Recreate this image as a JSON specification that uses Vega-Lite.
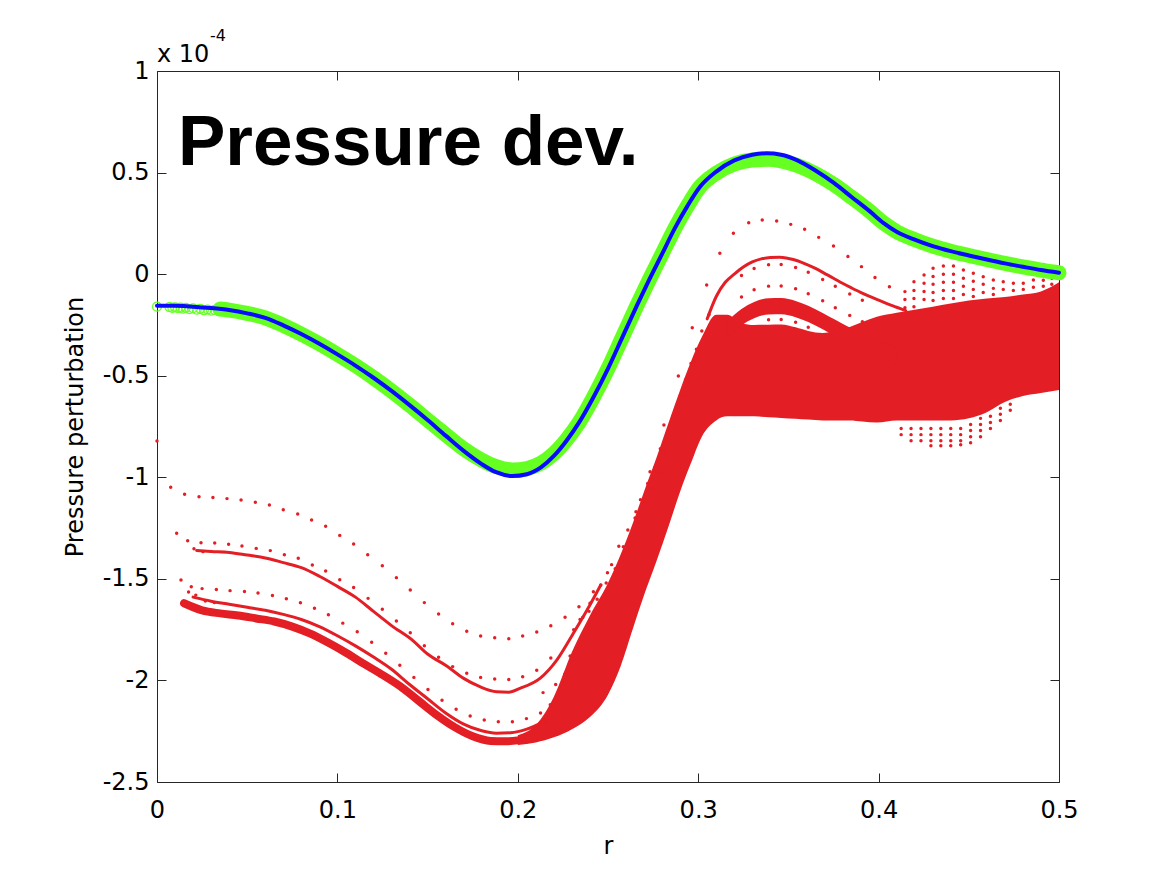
{
  "$schema": "https://vega.github.io/schema/vega-lite/v6.json",
  "width": 902,
  "height": 711,
  "autosize": {"type": "none"},
  "padding": {"left": 157, "top": 71, "right": 98, "bottom": 92},
  "background": "white",
  "config": {
    "view": {"stroke": "#262626", "strokeWidth": 1},
    "font": "DejaVu Sans",
    "axis": {"zindex": 1}
  },
  "datasets": {
    "blue": [
      {"r": 0.0, "p": -0.155}, {"r": 0.01, "p": -0.156}, {"r": 0.02, "p": -0.16}, {"r": 0.03, "p": -0.167},
      {"r": 0.04, "p": -0.177}, {"r": 0.05, "p": -0.193}, {"r": 0.06, "p": -0.215}, {"r": 0.07, "p": -0.252},
      {"r": 0.08, "p": -0.295}, {"r": 0.09, "p": -0.343}, {"r": 0.1, "p": -0.395}, {"r": 0.11, "p": -0.45},
      {"r": 0.12, "p": -0.51}, {"r": 0.13, "p": -0.575}, {"r": 0.14, "p": -0.645}, {"r": 0.15, "p": -0.718},
      {"r": 0.16, "p": -0.795}, {"r": 0.17, "p": -0.87}, {"r": 0.18, "p": -0.935}, {"r": 0.188, "p": -0.975},
      {"r": 0.197, "p": -0.994}, {"r": 0.205, "p": -0.985}, {"r": 0.213, "p": -0.95}, {"r": 0.22, "p": -0.895},
      {"r": 0.227, "p": -0.82}, {"r": 0.234, "p": -0.73}, {"r": 0.242, "p": -0.605}, {"r": 0.25, "p": -0.465},
      {"r": 0.258, "p": -0.31}, {"r": 0.266, "p": -0.155}, {"r": 0.273, "p": -0.025}, {"r": 0.28, "p": 0.1},
      {"r": 0.287, "p": 0.225}, {"r": 0.294, "p": 0.335}, {"r": 0.301, "p": 0.43}, {"r": 0.31, "p": 0.505},
      {"r": 0.32, "p": 0.56}, {"r": 0.33, "p": 0.588}, {"r": 0.338, "p": 0.595}, {"r": 0.346, "p": 0.588},
      {"r": 0.355, "p": 0.56}, {"r": 0.365, "p": 0.51}, {"r": 0.375, "p": 0.45}, {"r": 0.385, "p": 0.38},
      {"r": 0.395, "p": 0.31}, {"r": 0.403, "p": 0.25}, {"r": 0.41, "p": 0.209}, {"r": 0.42, "p": 0.17},
      {"r": 0.43, "p": 0.138}, {"r": 0.44, "p": 0.113}, {"r": 0.45, "p": 0.092}, {"r": 0.46, "p": 0.072},
      {"r": 0.47, "p": 0.053}, {"r": 0.48, "p": 0.036}, {"r": 0.49, "p": 0.02}, {"r": 0.5, "p": 0.007}
    ],
    "green": [
      {"r": 0.035, "p": -0.172}, {"r": 0.04, "p": -0.177}, {"r": 0.05, "p": -0.193}, {"r": 0.06, "p": -0.215},
      {"r": 0.07, "p": -0.252}, {"r": 0.08, "p": -0.295}, {"r": 0.09, "p": -0.343}, {"r": 0.1, "p": -0.395},
      {"r": 0.11, "p": -0.45}, {"r": 0.12, "p": -0.51}, {"r": 0.13, "p": -0.575}, {"r": 0.14, "p": -0.645},
      {"r": 0.15, "p": -0.718}, {"r": 0.16, "p": -0.79}, {"r": 0.17, "p": -0.86}, {"r": 0.18, "p": -0.915},
      {"r": 0.188, "p": -0.947}, {"r": 0.197, "p": -0.964}, {"r": 0.205, "p": -0.957}, {"r": 0.213, "p": -0.93},
      {"r": 0.22, "p": -0.883}, {"r": 0.227, "p": -0.815}, {"r": 0.234, "p": -0.73}, {"r": 0.242, "p": -0.605},
      {"r": 0.25, "p": -0.465}, {"r": 0.258, "p": -0.31}, {"r": 0.266, "p": -0.155}, {"r": 0.273, "p": -0.025},
      {"r": 0.28, "p": 0.1}, {"r": 0.287, "p": 0.225}, {"r": 0.294, "p": 0.335}, {"r": 0.301, "p": 0.43},
      {"r": 0.31, "p": 0.497}, {"r": 0.32, "p": 0.542}, {"r": 0.33, "p": 0.562}, {"r": 0.338, "p": 0.565},
      {"r": 0.346, "p": 0.558}, {"r": 0.355, "p": 0.535}, {"r": 0.365, "p": 0.495}, {"r": 0.375, "p": 0.442},
      {"r": 0.385, "p": 0.378}, {"r": 0.395, "p": 0.31}, {"r": 0.403, "p": 0.25}, {"r": 0.41, "p": 0.209},
      {"r": 0.42, "p": 0.17}, {"r": 0.43, "p": 0.138}, {"r": 0.44, "p": 0.113}, {"r": 0.45, "p": 0.092},
      {"r": 0.46, "p": 0.072}, {"r": 0.47, "p": 0.053}, {"r": 0.48, "p": 0.036}, {"r": 0.49, "p": 0.02},
      {"r": 0.5, "p": 0.007}
    ],
    "greenOpen": [
      {"r": 0.0, "p": -0.16}, {"r": 0.0069, "p": -0.162}, {"r": 0.0085, "p": -0.166}, {"r": 0.01, "p": -0.163},
      {"r": 0.0115, "p": -0.168}, {"r": 0.013, "p": -0.165}, {"r": 0.0145, "p": -0.17}, {"r": 0.016, "p": -0.166},
      {"r": 0.018, "p": -0.172}, {"r": 0.02, "p": -0.168}, {"r": 0.022, "p": -0.175}, {"r": 0.024, "p": -0.171},
      {"r": 0.026, "p": -0.178}, {"r": 0.028, "p": -0.174}, {"r": 0.03, "p": -0.18}, {"r": 0.032, "p": -0.176},
      {"r": 0.034, "p": -0.182}
    ],
    "redDots": [
      {"r": 0.0, "p": -0.821},
      {"r": 0.0076, "p": -1.049}, {"r": 0.0153, "p": -1.084}, {"r": 0.0233, "p": -1.096}, {"r": 0.031, "p": -1.1},
      {"r": 0.0388, "p": -1.105}, {"r": 0.0466, "p": -1.112}, {"r": 0.0545, "p": -1.123}, {"r": 0.0623, "p": -1.136},
      {"r": 0.07, "p": -1.16}, {"r": 0.078, "p": -1.181}, {"r": 0.0857, "p": -1.21}, {"r": 0.0935, "p": -1.241},
      {"r": 0.1013, "p": -1.286}, {"r": 0.109, "p": -1.328}, {"r": 0.1168, "p": -1.381}, {"r": 0.1249, "p": -1.435},
      {"r": 0.1327, "p": -1.494}, {"r": 0.1404, "p": -1.555}, {"r": 0.1482, "p": -1.617}, {"r": 0.1561, "p": -1.673},
      {"r": 0.1639, "p": -1.721}, {"r": 0.1717, "p": -1.758}, {"r": 0.1794, "p": -1.781}, {"r": 0.1872, "p": -1.79},
      {"r": 0.195, "p": -1.795}, {"r": 0.2027, "p": -1.781}, {"r": 0.2105, "p": -1.762}, {"r": 0.2183, "p": -1.731},
      {"r": 0.2262, "p": -1.689}, {"r": 0.2339, "p": -1.637}, {"r": 0.2419, "p": -1.563}, {"r": 0.2497, "p": -1.47},
      {"r": 0.2585, "p": -1.342}, {"r": 0.2655, "p": -1.17}, {"r": 0.2733, "p": -0.973}, {"r": 0.281, "p": -0.743},
      {"r": 0.289, "p": -0.501}, {"r": 0.2967, "p": -0.264}, {"r": 0.3047, "p": -0.053}, {"r": 0.312, "p": 0.103},
      {"r": 0.3195, "p": 0.201}, {"r": 0.328, "p": 0.253}, {"r": 0.3355, "p": 0.267}, {"r": 0.3435, "p": 0.262},
      {"r": 0.3513, "p": 0.245}, {"r": 0.359, "p": 0.221}, {"r": 0.3668, "p": 0.181}, {"r": 0.375, "p": 0.139},
      {"r": 0.383, "p": 0.087}, {"r": 0.3905, "p": 0.037}, {"r": 0.398, "p": -0.016}, {"r": 0.406, "p": -0.062},
      {"r": 0.0109, "p": -1.276}, {"r": 0.017, "p": -1.312}, {"r": 0.0244, "p": -1.322}, {"r": 0.032, "p": -1.324},
      {"r": 0.0397, "p": -1.33}, {"r": 0.0471, "p": -1.338}, {"r": 0.055, "p": -1.35}, {"r": 0.0628, "p": -1.361},
      {"r": 0.0706, "p": -1.381}, {"r": 0.0783, "p": -1.399}, {"r": 0.0861, "p": -1.432}, {"r": 0.0935, "p": -1.461},
      {"r": 0.1013, "p": -1.504}, {"r": 0.109, "p": -1.543}, {"r": 0.117, "p": -1.596}, {"r": 0.1249, "p": -1.65},
      {"r": 0.1327, "p": -1.707}, {"r": 0.1404, "p": -1.765}, {"r": 0.1482, "p": -1.829}, {"r": 0.1561, "p": -1.886},
      {"r": 0.1639, "p": -1.932}, {"r": 0.1717, "p": -1.965}, {"r": 0.1794, "p": -1.985}, {"r": 0.1872, "p": -1.993},
      {"r": 0.195, "p": -1.995}, {"r": 0.2027, "p": -1.982}, {"r": 0.2105, "p": -1.95}, {"r": 0.2183, "p": -1.89},
      {"r": 0.0133, "p": -1.506}, {"r": 0.019, "p": -1.539}, {"r": 0.025, "p": -1.548}, {"r": 0.0329, "p": -1.552},
      {"r": 0.0405, "p": -1.558}, {"r": 0.0485, "p": -1.562}, {"r": 0.056, "p": -1.57}, {"r": 0.064, "p": -1.582},
      {"r": 0.0717, "p": -1.598}, {"r": 0.0795, "p": -1.618}, {"r": 0.0873, "p": -1.645}, {"r": 0.095, "p": -1.677},
      {"r": 0.103, "p": -1.718}, {"r": 0.111, "p": -1.76}, {"r": 0.119, "p": -1.812}, {"r": 0.1268, "p": -1.866},
      {"r": 0.1346, "p": -1.925}, {"r": 0.1424, "p": -1.985}, {"r": 0.1502, "p": -2.045}, {"r": 0.158, "p": -2.098},
      {"r": 0.1658, "p": -2.142}, {"r": 0.1736, "p": -2.175}, {"r": 0.1814, "p": -2.195}, {"r": 0.1892, "p": -2.203},
      {"r": 0.197, "p": -2.203}, {"r": 0.2048, "p": -2.188}, {"r": 0.2126, "p": -2.16},
      {"r": 0.0175, "p": -1.565}, {"r": 0.0215, "p": -1.58}, {"r": 0.0268, "p": -1.609}, {"r": 0.0318, "p": -1.617},
      {"r": 0.0205, "p": -1.352}, {"r": 0.0255, "p": -1.366},
      {"r": 0.214, "p": -2.06}, {"r": 0.218, "p": -2.12}, {"r": 0.221, "p": -2.02}, {"r": 0.224, "p": -2.07},
      {"r": 0.226, "p": -1.97}, {"r": 0.229, "p": -1.88}, {"r": 0.216, "p": -2.2}, {"r": 0.222, "p": -2.17},
      {"r": 0.231, "p": -1.75}, {"r": 0.236, "p": -1.69}, {"r": 0.24, "p": -1.62}, {"r": 0.246, "p": -1.53},
      {"r": 0.252, "p": -1.43}, {"r": 0.256, "p": -1.34}, {"r": 0.261, "p": -1.26}, {"r": 0.265, "p": -1.2},
      {"r": 0.268, "p": -1.11}, {"r": 0.272, "p": -1.03}, {"r": 0.276, "p": -0.95}, {"r": 0.279, "p": -0.86},
      {"r": 0.283, "p": -0.78}, {"r": 0.286, "p": -0.7}, {"r": 0.29, "p": -0.6}, {"r": 0.293, "p": -0.52},
      {"r": 0.296, "p": -0.44}, {"r": 0.299, "p": -0.37}, {"r": 0.302, "p": -0.28}, {"r": 0.306, "p": -0.2},
      {"r": 0.2345, "p": -1.7}, {"r": 0.2395, "p": -1.66}, {"r": 0.244, "p": -1.6}, {"r": 0.249, "p": -1.52},
      {"r": 0.254, "p": -1.45}, {"r": 0.2585, "p": -1.4}, {"r": 0.263, "p": -1.31}, {"r": 0.2675, "p": -1.22},
      {"r": 0.271, "p": -1.13}, {"r": 0.275, "p": -1.06}, {"r": 0.2785, "p": -0.98}, {"r": 0.282, "p": -0.88},
      {"r": 0.2855, "p": -0.79}, {"r": 0.289, "p": -0.69}, {"r": 0.2925, "p": -0.6}, {"r": 0.2955, "p": -0.52},
      {"r": 0.2985, "p": -0.43}, {"r": 0.301, "p": -0.36},
      {"r": 0.324, "p": -0.007}, {"r": 0.331, "p": 0.028}, {"r": 0.339, "p": 0.046}, {"r": 0.346, "p": 0.047},
      {"r": 0.354, "p": 0.033}, {"r": 0.361, "p": 0.009}, {"r": 0.369, "p": -0.026}, {"r": 0.376, "p": -0.06},
      {"r": 0.384, "p": -0.098}, {"r": 0.391, "p": -0.129},
      {"r": 0.324, "p": -0.112}, {"r": 0.331, "p": -0.077}, {"r": 0.339, "p": -0.059}, {"r": 0.346, "p": -0.058},
      {"r": 0.354, "p": -0.072}, {"r": 0.361, "p": -0.096}, {"r": 0.369, "p": -0.131}, {"r": 0.376, "p": -0.165},
      {"r": 0.384, "p": -0.203}, {"r": 0.391, "p": -0.234},
      {"r": 0.339, "p": -0.224}, {"r": 0.346, "p": -0.223}, {"r": 0.354, "p": -0.237}, {"r": 0.361, "p": -0.261},
      {"r": 0.4146, "p": -0.086}, {"r": 0.4146, "p": -0.125}, {"r": 0.4146, "p": -0.165},
      {"r": 0.4196, "p": -0.037}, {"r": 0.4196, "p": -0.08}, {"r": 0.4196, "p": -0.12}, {"r": 0.4196, "p": -0.16},
      {"r": 0.4252, "p": -0.004}, {"r": 0.4252, "p": -0.045}, {"r": 0.4252, "p": -0.085}, {"r": 0.4252, "p": -0.125},
      {"r": 0.4302, "p": 0.029}, {"r": 0.4302, "p": -0.012}, {"r": 0.4302, "p": -0.05}, {"r": 0.4302, "p": -0.09}, {"r": 0.4302, "p": -0.13},
      {"r": 0.4359, "p": 0.04}, {"r": 0.4359, "p": 0.0}, {"r": 0.4359, "p": -0.04}, {"r": 0.4359, "p": -0.08}, {"r": 0.4359, "p": -0.12},
      {"r": 0.4415, "p": 0.04}, {"r": 0.4415, "p": 0.0}, {"r": 0.4415, "p": -0.04}, {"r": 0.4415, "p": -0.08}, {"r": 0.4415, "p": -0.12},
      {"r": 0.447, "p": 0.02}, {"r": 0.447, "p": -0.02}, {"r": 0.447, "p": -0.06}, {"r": 0.447, "p": -0.1},
      {"r": 0.4525, "p": 0.004}, {"r": 0.4525, "p": -0.035}, {"r": 0.4525, "p": -0.075}, {"r": 0.4525, "p": -0.11},
      {"r": 0.458, "p": -0.013}, {"r": 0.458, "p": -0.05}, {"r": 0.458, "p": -0.09},
      {"r": 0.4636, "p": -0.029}, {"r": 0.4636, "p": -0.07}, {"r": 0.4636, "p": -0.1},
      {"r": 0.4691, "p": -0.037}, {"r": 0.4691, "p": -0.075},
      {"r": 0.4747, "p": -0.045}, {"r": 0.4747, "p": -0.08},
      {"r": 0.4802, "p": -0.045}, {"r": 0.4802, "p": -0.075},
      {"r": 0.4858, "p": -0.029}, {"r": 0.4858, "p": -0.065},
      {"r": 0.4913, "p": 0.048}, {"r": 0.4913, "p": -0.03}, {"r": 0.4913, "p": -0.06},
      {"r": 0.496, "p": -0.02}, {"r": 0.496, "p": -0.05},
      {"r": 0.4125, "p": -0.76}, {"r": 0.4125, "p": -0.79},
      {"r": 0.418, "p": -0.76}, {"r": 0.418, "p": -0.79}, {"r": 0.418, "p": -0.82},
      {"r": 0.4235, "p": -0.76}, {"r": 0.4235, "p": -0.79}, {"r": 0.4235, "p": -0.82},
      {"r": 0.429, "p": -0.76}, {"r": 0.429, "p": -0.79}, {"r": 0.429, "p": -0.82}, {"r": 0.429, "p": -0.845},
      {"r": 0.4345, "p": -0.76}, {"r": 0.4345, "p": -0.79}, {"r": 0.4345, "p": -0.82}, {"r": 0.4345, "p": -0.845},
      {"r": 0.44, "p": -0.76}, {"r": 0.44, "p": -0.79}, {"r": 0.44, "p": -0.82}, {"r": 0.44, "p": -0.845},
      {"r": 0.4455, "p": -0.76}, {"r": 0.4455, "p": -0.79}, {"r": 0.4455, "p": -0.82}, {"r": 0.4455, "p": -0.84},
      {"r": 0.451, "p": -0.74}, {"r": 0.451, "p": -0.77}, {"r": 0.451, "p": -0.8}, {"r": 0.451, "p": -0.83},
      {"r": 0.4565, "p": -0.71}, {"r": 0.4565, "p": -0.74}, {"r": 0.4565, "p": -0.77}, {"r": 0.4565, "p": -0.8},
      {"r": 0.462, "p": -0.7}, {"r": 0.462, "p": -0.73}, {"r": 0.462, "p": -0.76},
      {"r": 0.4675, "p": -0.66}, {"r": 0.4675, "p": -0.69}, {"r": 0.4675, "p": -0.72},
      {"r": 0.473, "p": -0.64}, {"r": 0.473, "p": -0.67}
    ],
    "redLines": [
      {"s": "C", "r": 0.022, "p": -1.36}, {"s": "C", "r": 0.03, "p": -1.365}, {"s": "C", "r": 0.04, "p": -1.37},
      {"s": "C", "r": 0.05, "p": -1.383}, {"s": "C", "r": 0.06, "p": -1.397}, {"s": "C", "r": 0.07, "p": -1.42},
      {"s": "C", "r": 0.08, "p": -1.445}, {"s": "C", "r": 0.09, "p": -1.487}, {"s": "C", "r": 0.1, "p": -1.537},
      {"s": "C", "r": 0.11, "p": -1.59}, {"s": "C", "r": 0.12, "p": -1.66}, {"s": "C", "r": 0.13, "p": -1.73},
      {"s": "C", "r": 0.142, "p": -1.805}, {"s": "C", "r": 0.15, "p": -1.87}, {"s": "C", "r": 0.1606, "p": -1.929},
      {"s": "C", "r": 0.17, "p": -1.99}, {"s": "C", "r": 0.179, "p": -2.031}, {"s": "C", "r": 0.1883, "p": -2.056},
      {"s": "C", "r": 0.195, "p": -2.058}, {"s": "C", "r": 0.2012, "p": -2.039}, {"s": "C", "r": 0.2123, "p": -1.99},
      {"s": "C", "r": 0.2216, "p": -1.9}, {"s": "C", "r": 0.23, "p": -1.78}, {"s": "C", "r": 0.238, "p": -1.66},
      {"s": "C", "r": 0.246, "p": -1.53},
      {"s": "L1", "r": 0.02, "p": -1.59}, {"s": "L1", "r": 0.03, "p": -1.61}, {"s": "L1", "r": 0.04, "p": -1.625},
      {"s": "L1", "r": 0.05, "p": -1.64}, {"s": "L1", "r": 0.06, "p": -1.655}, {"s": "L1", "r": 0.07, "p": -1.675},
      {"s": "L1", "r": 0.08, "p": -1.7}, {"s": "L1", "r": 0.09, "p": -1.735}, {"s": "L1", "r": 0.1, "p": -1.78},
      {"s": "L1", "r": 0.11, "p": -1.83}, {"s": "L1", "r": 0.12, "p": -1.885}, {"s": "L1", "r": 0.13, "p": -1.945},
      {"s": "L1", "r": 0.14, "p": -2.02}, {"s": "L1", "r": 0.15, "p": -2.09}, {"s": "L1", "r": 0.16, "p": -2.16},
      {"s": "L1", "r": 0.17, "p": -2.215}, {"s": "L1", "r": 0.18, "p": -2.248}, {"s": "L1", "r": 0.188, "p": -2.26},
      {"s": "L1", "r": 0.196, "p": -2.258}, {"s": "L1", "r": 0.205, "p": -2.24}, {"s": "L1", "r": 0.215, "p": -2.2},
      {"s": "L2", "r": 0.015, "p": -1.62}, {"s": "L2", "r": 0.025, "p": -1.655}, {"s": "L2", "r": 0.035, "p": -1.67},
      {"s": "L2", "r": 0.045, "p": -1.68}, {"s": "L2", "r": 0.055, "p": -1.695}, {"s": "L2", "r": 0.065, "p": -1.71},
      {"s": "L2", "r": 0.075, "p": -1.735}, {"s": "L2", "r": 0.085, "p": -1.77}, {"s": "L2", "r": 0.095, "p": -1.815},
      {"s": "L2", "r": 0.105, "p": -1.865}, {"s": "L2", "r": 0.115, "p": -1.92}, {"s": "L2", "r": 0.1236, "p": -1.965},
      {"s": "L2", "r": 0.135, "p": -2.03}, {"s": "L2", "r": 0.145, "p": -2.1}, {"s": "L2", "r": 0.155, "p": -2.17},
      {"s": "L2", "r": 0.165, "p": -2.23}, {"s": "L2", "r": 0.175, "p": -2.275}, {"s": "L2", "r": 0.185, "p": -2.298},
      {"s": "L2", "r": 0.192, "p": -2.3}, {"s": "L2", "r": 0.2, "p": -2.295}, {"s": "L2", "r": 0.21, "p": -2.275},
      {"s": "U1", "r": 0.305, "p": -0.22}, {"s": "U1", "r": 0.31, "p": -0.11}, {"s": "U1", "r": 0.315, "p": -0.04},
      {"s": "U1", "r": 0.32, "p": 0.0}, {"s": "U1", "r": 0.325, "p": 0.035}, {"s": "U1", "r": 0.33, "p": 0.06},
      {"s": "U1", "r": 0.335, "p": 0.075}, {"s": "U1", "r": 0.34, "p": 0.082}, {"s": "U1", "r": 0.345, "p": 0.083},
      {"s": "U1", "r": 0.35, "p": 0.077}, {"s": "U1", "r": 0.355, "p": 0.066}, {"s": "U1", "r": 0.36, "p": 0.048},
      {"s": "U1", "r": 0.365, "p": 0.028}, {"s": "U1", "r": 0.37, "p": 0.004}, {"s": "U1", "r": 0.375, "p": -0.02},
      {"s": "U1", "r": 0.38, "p": -0.045}, {"s": "U1", "r": 0.385, "p": -0.068}, {"s": "U1", "r": 0.39, "p": -0.09},
      {"s": "U1", "r": 0.395, "p": -0.11}, {"s": "U1", "r": 0.4, "p": -0.128}, {"s": "U1", "r": 0.405, "p": -0.146},
      {"s": "U1", "r": 0.41, "p": -0.163}, {"s": "U1", "r": 0.415, "p": -0.18}
    ],
    "redBands": [
      {"b": "M", "r": 0.2, "lo": -2.318, "hi": -2.27}, {"b": "M", "r": 0.21, "lo": -2.305, "hi": -2.22},
      {"b": "M", "r": 0.22, "lo": -2.28, "hi": -2.08}, {"b": "M", "r": 0.23, "lo": -2.24, "hi": -1.86},
      {"b": "M", "r": 0.24, "lo": -2.18, "hi": -1.68}, {"b": "M", "r": 0.25, "lo": -2.07, "hi": -1.52},
      {"b": "M", "r": 0.257, "lo": -1.93, "hi": -1.38}, {"b": "M", "r": 0.264, "lo": -1.74, "hi": -1.22},
      {"b": "M", "r": 0.27, "lo": -1.58, "hi": -1.07}, {"b": "M", "r": 0.277, "lo": -1.41, "hi": -0.9},
      {"b": "M", "r": 0.284, "lo": -1.23, "hi": -0.72}, {"b": "M", "r": 0.29, "lo": -1.07, "hi": -0.57},
      {"b": "M", "r": 0.296, "lo": -0.93, "hi": -0.43}, {"b": "M", "r": 0.302, "lo": -0.8, "hi": -0.31},
      {"b": "M", "r": 0.31, "lo": -0.72, "hi": -0.2}, {"b": "M", "r": 0.316, "lo": -0.7, "hi": -0.2},
      {"b": "M", "r": 0.324, "lo": -0.7, "hi": -0.24}, {"b": "M", "r": 0.331, "lo": -0.7, "hi": -0.25},
      {"b": "M", "r": 0.339, "lo": -0.705, "hi": -0.249}, {"b": "M", "r": 0.346, "lo": -0.708, "hi": -0.248},
      {"b": "M", "r": 0.354, "lo": -0.712, "hi": -0.262}, {"b": "M", "r": 0.361, "lo": -0.716, "hi": -0.28},
      {"b": "M", "r": 0.369, "lo": -0.72, "hi": -0.29}, {"b": "M", "r": 0.376, "lo": -0.72, "hi": -0.28},
      {"b": "M", "r": 0.384, "lo": -0.72, "hi": -0.26}, {"b": "M", "r": 0.391, "lo": -0.725, "hi": -0.235},
      {"b": "M", "r": 0.399, "lo": -0.73, "hi": -0.21}, {"b": "M", "r": 0.41, "lo": -0.72, "hi": -0.19},
      {"b": "M", "r": 0.42, "lo": -0.72, "hi": -0.175}, {"b": "M", "r": 0.43, "lo": -0.72, "hi": -0.16},
      {"b": "M", "r": 0.44, "lo": -0.72, "hi": -0.145}, {"b": "M", "r": 0.45, "lo": -0.71, "hi": -0.13},
      {"b": "M", "r": 0.46, "lo": -0.68, "hi": -0.12}, {"b": "M", "r": 0.47, "lo": -0.63, "hi": -0.113},
      {"b": "M", "r": 0.48, "lo": -0.6, "hi": -0.1}, {"b": "M", "r": 0.49, "lo": -0.585, "hi": -0.085},
      {"b": "M", "r": 0.5, "lo": -0.57, "hi": -0.04},
      {"b": "S1", "r": 0.316, "lo": -0.312, "hi": -0.232}, {"b": "S1", "r": 0.324, "lo": -0.252, "hi": -0.172},
      {"b": "S1", "r": 0.331, "lo": -0.217, "hi": -0.137}, {"b": "S1", "r": 0.339, "lo": -0.199, "hi": -0.119},
      {"b": "S1", "r": 0.346, "lo": -0.198, "hi": -0.118}, {"b": "S1", "r": 0.354, "lo": -0.212, "hi": -0.132},
      {"b": "S1", "r": 0.361, "lo": -0.236, "hi": -0.156}, {"b": "S1", "r": 0.369, "lo": -0.271, "hi": -0.191},
      {"b": "S1", "r": 0.376, "lo": -0.305, "hi": -0.225}, {"b": "S1", "r": 0.384, "lo": -0.343, "hi": -0.263},
      {"b": "S1", "r": 0.391, "lo": -0.374, "hi": -0.294}, {"b": "S1", "r": 0.399, "lo": -0.404, "hi": -0.324},
      {"b": "S1", "r": 0.41, "lo": -0.443, "hi": -0.363}
    ]
  },
  "resolve": {"axis": {"x": "independent", "y": "independent"}},
  "layer": [
    {
      "data": {"name": "redBands"},
      "mark": {"type": "area", "color": "#e41e25", "interpolate": "monotone", "clip": true},
      "encoding": {
        "detail": {"field": "b"},
        "x": {
          "field": "r", "type": "quantitative",
          "scale": {"domain": [0, 0.5], "nice": false, "zero": false},
          "axis": {
            "orient": "bottom", "values": [0, 0.1, 0.2, 0.3, 0.4, 0.5],
            "labelExpr": "'' + datum.value", "title": "r",
            "domain": false, "grid": false, "tickSize": -9, "tickColor": "#262626",
            "labelPadding": 25, "labelFontSize": 24, "labelFont": "DejaVu Sans", "labelColor": "black",
            "labelFlush": false, "labelOverlap": false,
            "titleFontSize": 24, "titleFont": "DejaVu Sans", "titleFontWeight": "normal", "titleColor": "black",
            "titlePadding": 12
          }
        },
        "y": {
          "field": "lo", "type": "quantitative",
          "scale": {"domain": [-2.5, 1], "nice": false, "zero": false},
          "axis": {
            "orient": "left", "values": [-2.5, -2, -1.5, -1, -0.5, 0, 0.5, 1],
            "labelExpr": "'' + datum.value", "title": "Pressure perturbation",
            "domain": false, "grid": false, "tickSize": -9, "tickColor": "#262626",
            "labelPadding": 17, "labelFontSize": 24, "labelFont": "DejaVu Sans", "labelColor": "black",
            "labelFlush": false, "labelOverlap": false,
            "titleFontSize": 24, "titleFont": "DejaVu Sans", "titleFontWeight": "normal", "titleColor": "black",
            "titlePadding": 15
          }
        },
        "y2": {"field": "hi"}
      }
    },
    {
      "data": {"name": "redLines"},
      "transform": [{"filter": "datum.s !== 'L2'"}],
      "mark": {"type": "line", "color": "#e41e25", "strokeWidth": 3, "interpolate": "monotone", "strokeCap": "round"},
      "encoding": {
        "detail": {"field": "s"},
        "x": {
          "field": "r", "type": "quantitative",
          "axis": {
            "orient": "top", "values": [0, 0.1, 0.2, 0.3, 0.4, 0.5], "labels": false, "title": null,
            "domain": false, "grid": false, "tickSize": -9, "tickColor": "#262626"
          }
        },
        "y": {
          "field": "p", "type": "quantitative",
          "axis": {
            "orient": "right", "values": [-2.5, -2, -1.5, -1, -0.5, 0, 0.5, 1], "labels": false, "title": null,
            "domain": false, "grid": false, "tickSize": -9, "tickColor": "#262626"
          }
        }
      }
    },
    {
      "data": {"name": "redLines"},
      "transform": [{"filter": "datum.s === 'L2'"}],
      "mark": {"type": "line", "color": "#e41e25", "strokeWidth": 8, "interpolate": "monotone", "strokeCap": "round"},
      "encoding": {
        "x": {"field": "r", "type": "quantitative", "axis": null},
        "y": {"field": "p", "type": "quantitative", "axis": null}
      }
    },
    {
      "data": {"name": "redDots"},
      "mark": {"type": "circle", "color": "#e41e25", "size": 12, "opacity": 1},
      "encoding": {
        "x": {"field": "r", "type": "quantitative", "axis": null},
        "y": {"field": "p", "type": "quantitative", "axis": null}
      }
    },
    {
      "data": {"name": "green"},
      "mark": {"type": "line", "color": "#66ff22", "strokeWidth": 15, "interpolate": "monotone", "strokeCap": "round", "strokeJoin": "round"},
      "encoding": {
        "x": {"field": "r", "type": "quantitative", "axis": null},
        "y": {"field": "p", "type": "quantitative", "axis": null}
      }
    },
    {
      "data": {"name": "greenOpen"},
      "mark": {"type": "point", "shape": "circle", "filled": false, "color": "#66ff22", "size": 80, "strokeWidth": 1.2, "opacity": 1},
      "encoding": {
        "x": {"field": "r", "type": "quantitative", "axis": null},
        "y": {"field": "p", "type": "quantitative", "axis": null}
      }
    },
    {
      "data": {"name": "blue"},
      "mark": {"type": "line", "color": "#0a0aff", "strokeWidth": 4, "interpolate": "monotone", "strokeCap": "round"},
      "encoding": {
        "x": {"field": "r", "type": "quantitative", "axis": null},
        "y": {"field": "p", "type": "quantitative", "axis": null}
      }
    },
    {
      "data": {"values": [{"label": "Pressure dev."}]},
      "mark": {"type": "text", "align": "left", "baseline": "alphabetic", "dx": 21, "dy": 94,
               "font": "Liberation Sans", "fontWeight": "bold", "fontSize": 71, "color": "black"},
      "encoding": {
        "text": {"field": "label"},
        "x": {"datum": 0, "type": "quantitative", "axis": null},
        "y": {"datum": 1, "type": "quantitative", "axis": null}
      }
    },
    {
      "data": {"values": [{"label": "x 10"}]},
      "mark": {"type": "text", "align": "left", "baseline": "alphabetic", "dx": 0, "dy": -9,
               "font": "DejaVu Sans", "fontSize": 24, "color": "black"},
      "encoding": {
        "text": {"field": "label"},
        "x": {"datum": 0, "type": "quantitative", "axis": null},
        "y": {"datum": 1, "type": "quantitative", "axis": null}
      }
    },
    {
      "data": {"values": [{"label": "-4"}]},
      "mark": {"type": "text", "align": "left", "baseline": "alphabetic", "dx": 53, "dy": -30,
               "font": "DejaVu Sans", "fontSize": 16, "color": "black"},
      "encoding": {
        "text": {"field": "label"},
        "x": {"datum": 0, "type": "quantitative", "axis": null},
        "y": {"datum": 1, "type": "quantitative", "axis": null}
      }
    }
  ]
}
